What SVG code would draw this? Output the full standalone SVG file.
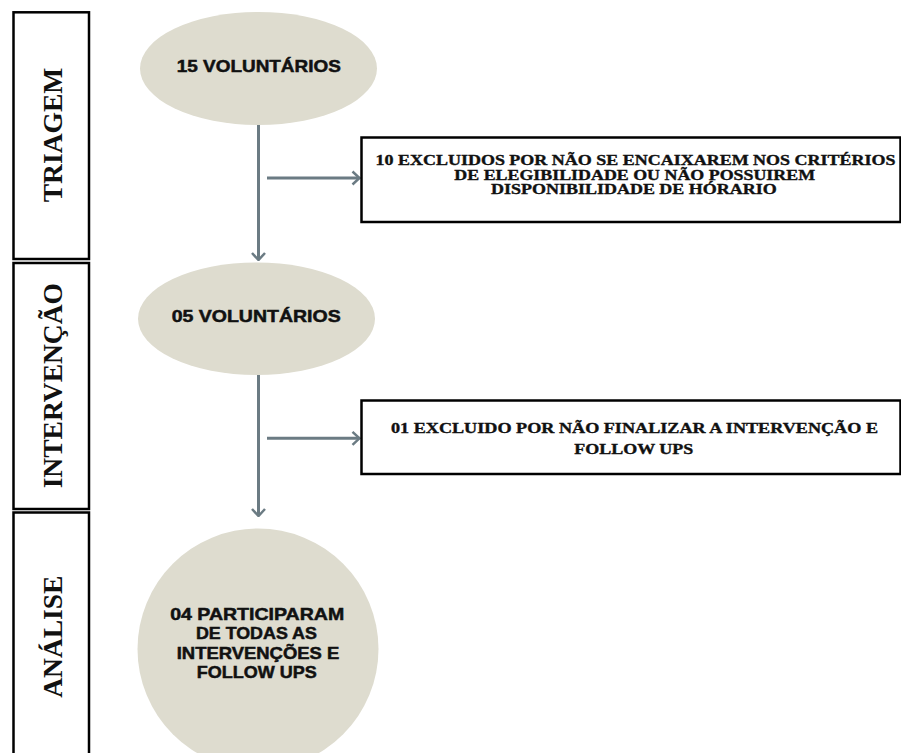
<svg xmlns="http://www.w3.org/2000/svg" width="901" height="753" viewBox="0 0 901 753">
  <style>
    .phase { fill: #ffffff; stroke: #000000; stroke-width: 2.5; }
    .phase-label { font-family: "Liberation Serif", "Times New Roman", serif; font-weight: bold; font-size: 27.5px; fill: #111111; text-anchor: middle; }
    .blob { fill: #dedccf; stroke: none; }
    .blob-text { font-family: "Liberation Sans", Arial, sans-serif; font-weight: bold; font-size: 16.5px; fill: #111111; stroke: #111111; stroke-width: 0.5; text-anchor: middle; }
    .box { fill: #ffffff; stroke: #000000; stroke-width: 2.5; }
    .box-text { font-family: "Liberation Serif", "Times New Roman", serif; font-weight: bold; font-size: 14.5px; fill: #111111; stroke: #111111; stroke-width: 0.35; text-anchor: middle; }
    .conn { stroke: #6b7b83; stroke-width: 3; fill: none; }
  </style>
  <defs>
    <marker id="arrow" viewBox="0 0 10 16" refX="9" refY="8" markerWidth="10" markerHeight="16" markerUnits="userSpaceOnUse" orient="auto">
      <path d="M2,1.5 L9,8 L2,14.5" fill="none" stroke="#6b7b83" stroke-width="2.5"/>
    </marker>
  </defs>

  <g id="phase-triagem">
    <rect class="phase" x="13.5" y="12.3" width="75.5" height="246.7"/>
    <text class="phase-label" transform="translate(61.5,135) rotate(-90)">TRIAGEM</text>
  </g>
  <g id="phase-intervencao">
    <rect class="phase" x="13.5" y="263" width="75.5" height="246"/>
    <text class="phase-label" transform="translate(61.5,385.7) rotate(-90)">INTERVENÇÃO</text>
  </g>
  <g id="phase-analise">
    <rect class="phase" x="13.5" y="512.5" width="75.5" height="250"/>
    <text class="phase-label" transform="translate(61.5,636.7) rotate(-90)">ANÁLISE</text>
  </g>

  <g id="connectors">
    <line class="conn" x1="258.5" y1="125" x2="258.5" y2="260" marker-end="url(#arrow)"/>
    <line class="conn" x1="267" y1="178" x2="359.5" y2="178" marker-end="url(#arrow)"/>
    <line class="conn" x1="258.5" y1="375" x2="258.5" y2="516" marker-end="url(#arrow)"/>
    <line class="conn" x1="267" y1="438.3" x2="359.5" y2="438.3" marker-end="url(#arrow)"/>
  </g>

  <g id="node-15-voluntarios">
    <ellipse class="blob" cx="258.5" cy="68.5" rx="118.5" ry="56.5"/>
    <text class="blob-text" x="258.8" y="72.3" textLength="164" lengthAdjust="spacingAndGlyphs">15 VOLUNTÁRIOS</text>
  </g>

  <g id="node-excluidos-10">
    <rect class="box" x="361.5" y="137.5" width="539" height="84.5"/>
    <text class="box-text" x="635.5" y="165.2" textLength="520" lengthAdjust="spacingAndGlyphs">10 EXCLUIDOS POR NÃO SE ENCAIXAREM NOS CRITÉRIOS</text>
    <text class="box-text" x="634.7" y="179.6" textLength="360.7" lengthAdjust="spacingAndGlyphs">DE ELEGIBILIDADE OU NÃO POSSUIREM</text>
    <text class="box-text" x="633.9" y="194" textLength="285.7" lengthAdjust="spacingAndGlyphs">DISPONIBILIDADE DE HÓRARIO</text>
  </g>

  <g id="node-05-voluntarios">
    <ellipse class="blob" cx="256.5" cy="318.7" rx="118.5" ry="56.3"/>
    <text class="blob-text" x="256.2" y="322.3" textLength="169" lengthAdjust="spacingAndGlyphs">05 VOLUNTÁRIOS</text>
  </g>

  <g id="node-excluido-01">
    <rect class="box" x="361.5" y="400.5" width="539" height="73.5"/>
    <text class="box-text" x="634.5" y="432.7" textLength="487" lengthAdjust="spacingAndGlyphs">01 EXCLUIDO POR NÃO FINALIZAR A INTERVENÇÃO E</text>
    <text class="box-text" x="633.8" y="453.5" textLength="119" lengthAdjust="spacingAndGlyphs">FOLLOW UPS</text>
  </g>

  <g id="node-04-participaram">
    <circle class="blob" cx="258" cy="649" r="120.5"/>
    <text class="blob-text" x="257.2" y="620" textLength="174" lengthAdjust="spacingAndGlyphs">04 PARTICIPARAM</text>
    <text class="blob-text" x="256.4" y="639.3" textLength="121" lengthAdjust="spacingAndGlyphs">DE TODAS AS</text>
    <text class="blob-text" x="258" y="658.6" textLength="162.6" lengthAdjust="spacingAndGlyphs">INTERVENÇÕES E</text>
    <text class="blob-text" x="256.7" y="677.9" textLength="120" lengthAdjust="spacingAndGlyphs">FOLLOW UPS</text>
  </g>
</svg>
